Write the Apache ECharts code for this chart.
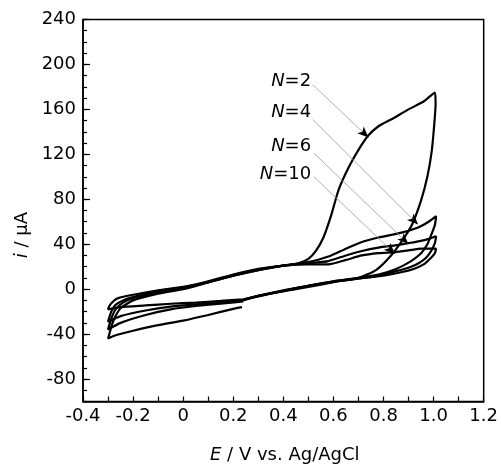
<!DOCTYPE html>
<html><head><meta charset="utf-8">
<script src="https://cdn.jsdelivr.net/npm/echarts@6/dist/echarts.min.js"></script>
<style>html,body{margin:0;padding:0;background:#fff}#c{width:501px;height:469px}</style>
</head><body><div id="c"></div>
<script>
// ---- tick labels ----
const yTickLabels = [-80, -40, 0, 40, 80, 120, 160, 200, 240];
const xTickLabels = [-0.4, -0.2, 0, 0.2, 0.4, 0.6, 0.8, 1.0, 1.2];

// ---- cycle N=2 ----
const n2E = [0.235,0.2,0.1,0,-0.1,-0.2,-0.27,-0.3,
  -0.295,-0.285,-0.27,-0.25,-0.2,-0.1,0,0.1,0.2,0.3,0.4,0.46,0.5,0.53,0.56,0.59,0.62,0.66,0.7,0.74,0.78,0.83,0.9,0.96,1.005,
  1.008,1.002,0.992,0.975,0.95,0.915,0.88,0.83,0.77,0.7,0.62,0.55,0.45,0.35,0.25];
const n2I = [-16,-17.5,-23,-28,-32,-37,-41,-44,
  -40,-32,-24,-17,-10,-4,0,6,12,17,21,23,27,34,46,65,88,108,124,137,145,151,160,167,175,
  165,145,122,100,79,58,45,30,17,10,7,4,0,-4,-9];

// ---- cycle N=4 ----
const n4E = [0.24,0.15,0.05,-0.05,-0.15,-0.25,-0.3,
  -0.295,-0.285,-0.27,-0.24,-0.2,-0.1,0,0.1,0.2,0.3,0.4,0.5,0.58,0.65,0.714,0.78,0.846,0.9,0.94,0.98,1.01,
  1.005,0.99,0.975,0.95,0.91,0.85,0.78,0.7,0.6,0.5,0.4,0.3,0.24];
const n4I = [-11,-13,-15,-18,-23,-30,-36,
  -32,-25,-18,-12,-8,-3,1,6,12,17,21,24,29,36,42,46,49,52,55,60,65,
  57,48,40,32,25,18,13,10,7,3,-1,-6,-10];

// ---- cycle N=6 ----
const n6E = [0.24,0.15,0.05,-0.05,-0.15,-0.25,-0.3,
  -0.295,-0.285,-0.27,-0.24,-0.2,-0.1,0,0.1,0.2,0.3,0.4,0.5,0.58,0.65,0.714,0.78,0.846,0.9,0.95,0.985,1.01,
  1.005,0.99,0.97,0.94,0.91,0.85,0.78,0.7,0.6,0.5,0.4,0.3,0.24];
const n6I = [-10,-12,-13.5,-15.5,-19,-24,-29,
  -25,-19,-14,-10,-7,-2,1.5,6.5,12.5,17.5,21,23,25,30,34,37,39,41,43,45,47,
  41,34,28,23,20,16,12,9.5,7,3,-1.5,-6,-9.5];

// ---- cycle N=10 ----
const n10E = [0.24,0.15,0.05,-0.05,-0.15,-0.25,-0.3,
  -0.295,-0.28,-0.26,-0.2,-0.1,0,0.1,0.2,0.3,0.4,0.5,0.58,0.65,0.714,0.78,0.846,0.9,0.95,1.01,
  1.005,0.99,0.96,0.92,0.87,0.8,0.72,0.62,0.5,0.4,0.3,0.24];
const n10I = [-9,-10.5,-12,-13,-14.5,-16,-18,
  -15,-11,-8,-5,-1,2,7,13,18,21,22,22,26,30,32,33,34.5,36,36,
  32,28,22,18,15,12,10,7,3,-1.5,-6,-9];

// ---- annotations ----
const annNames = ['2', '4', '6', '10'];
const annTextE = [0.515, 0.515, 0.515, 0.515];
const annTextI = [185, 157, 127, 102];
const annFromE = [0.517, 0.517, 0.522, 0.522];
const annFromI = [182, 151, 121, 100];
const annToE = [0.74, 0.938, 0.899, 0.846];
const annToI = [135, 57.5, 40.3, 31.3];

const FONT = 'DejaVu Sans';
const zip = (a, b) => a.map((v, i) => [v, b[i]]);
const curves = [
  ['N=2', n2E, n2I], ['N=4', n4E, n4I], ['N=6', n6E, n6I], ['N=10', n10E, n10I]
];

const series = curves.map(c => ({
  name: c[0], type: 'line', data: zip(c[1], c[2]), showSymbol: false, smooth: 0.2,
  lineStyle: { color: '#000', width: 2.2 }, itemStyle: { color: '#000' }, silent: true, z: 3
}));

const greyLines = annNames.map((n, i) => [{ coord: [annFromE[i], annFromI[i]] }, { coord: [annToE[i], annToI[i]] }]);
const arrowHeads = annNames.map((n, i) => {
  const t = 0.9;
  return [{ coord: [annFromE[i] + (annToE[i] - annFromE[i]) * t, annFromI[i] + (annToI[i] - annFromI[i]) * t] },
          { coord: [annToE[i], annToI[i]] }];
});
series.push({
  type: 'scatter', data: annNames.map((n, i) => ({ value: [annTextE[i], annTextI[i]], name: n })),
  symbolSize: 0, silent: true, z: 5,
  itemStyle: { opacity: 1, color: '#000' },
  label: {
    show: true, position: 'left', distance: 1, color: '#000', opacity: 1,
    formatter: p => '{it|N}{rm|=' + p.name + '}',
    rich: {
      it: { fontFamily: FONT, fontSize: 18, fontStyle: 'italic', color: '#000' },
      rm: { fontFamily: FONT, fontSize: 18, color: '#000' }
    }
  },
  markLine: {
    silent: true, symbol: ['none', 'none'], animation: false,
    lineStyle: { color: '#9a9a9a', width: 0.8, type: 'solid', opacity: 1 }, label: { show: false },
    data: greyLines
  }
});
series.push({
  type: 'line', data: [], silent: true, z: 6,
  markLine: {
    silent: true, symbol: ['none', 'arrow'], symbolSize: [7, 11], animation: false,
    lineStyle: { color: '#000', width: 0, type: 'solid', opacity: 1 }, label: { show: false },
    data: arrowHeads
  }
});

const chart = echarts.init(document.getElementById('c'), null, { renderer: 'canvas' });
chart.setOption({
  animation: false,
  backgroundColor: '#fff',
  grid: { left: 83, right: 15, top: 19.5, bottom: 67.5, show: true, borderColor: '#000', borderWidth: 1.5, backgroundColor: 'transparent' },
  xAxis: {
    type: 'value', min: -0.4, max: 1.2, interval: 0.1,
    axisLine: { show: true, onZero: false, lineStyle: { color: '#000', width: 1.5 } },
    axisTick: { show: true, inside: true, length: 5, lineStyle: { color: '#000', width: 1.2 } },
    splitLine: { show: false },
    axisLabel: {
      margin: 6, color: '#000', fontFamily: FONT, fontSize: 18,
      formatter: v => {
        const k = Math.round(v * 10);
        if (k % 2 !== 0) return '';
        const m = xTickLabels.find(t => Math.round(t * 10) === k);
        if (m === undefined) return '';
        return k === 0 ? '0' : m.toFixed(1);
      }
    }
  },
  yAxis: [{
    type: 'value', min: -100, max: 240, interval: 10,
    axisLine: { show: true, onZero: false, lineStyle: { color: '#000', width: 1.5 } },
    axisTick: { show: true, inside: true, length: 4, lineStyle: { color: '#000', width: 1.2 } },
    splitLine: { show: false },
    axisLabel: {
      margin: 7, color: '#000', fontFamily: FONT, fontSize: 18,
      formatter: v => yTickLabels.indexOf(Math.round(v)) >= 0 ? String(Math.round(v)) : ''
    }
  }, {
    type: 'value', min: -100, max: 240, position: 'left',
    axisLine: { show: false, onZero: false },
    axisTick: { show: true, inside: true, length: 7, customValues: yTickLabels, lineStyle: { color: '#000', width: 1.2 } },
    axisLabel: { show: false },
    splitLine: { show: false }
  }],
  graphic: [
    {
      type: 'text', left: 210, top: 446, silent: true,
      style: {
        text: '{it|E}{rm| / V vs. Ag/AgCl}',
        rich: {
          it: { fontFamily: FONT, fontSize: 18, fontStyle: 'italic', fill: '#000' },
          rm: { fontFamily: FONT, fontSize: 18, fill: '#000' }
        }
      }
    },
    {
      type: 'text', x: 22, y: 235, rotation: Math.PI / 2, silent: true,
      style: {
        text: '{it|i}{rm| / μA}', align: 'center', verticalAlign: 'middle',
        rich: {
          it: { fontFamily: FONT, fontSize: 18, fontStyle: 'italic', fill: '#000' },
          rm: { fontFamily: FONT, fontSize: 18, fill: '#000' }
        }
      }
    }
  ],
  series: series
});
</script></body></html>
